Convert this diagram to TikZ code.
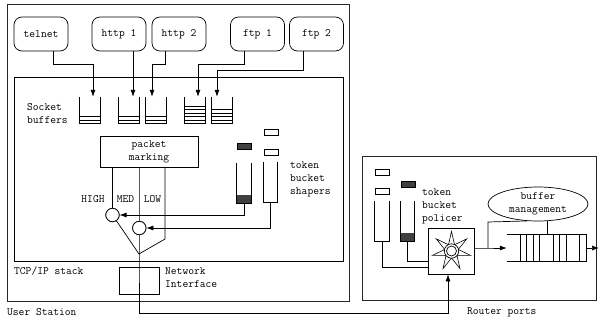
\documentclass[tikz,border=0pt]{standalone}
\usepackage{fontspec}
\usetikzlibrary{arrows.meta,calc,shapes.geometric}
\definecolor{tokdark}{HTML}{404040}
\newcommand\mkbuf[3]{%
  \node[bufbox] (#1) at (#2,110) {};
  \draw[ln] (#1.north west) -- (#1.south west) -- (#1.south east) -- (#1.north east);
  \foreach \k in {1,...,#3} {\draw[thinln] ($(#1.south west)+(0,-\k*3.4)$) -- ($(#1.south east)+(0,-\k*3.4)$);}
}
\newcommand\mktube[4]{%
  \node[tubebox] (#1) at (#2,#3) {};
  \ifx#4d\fill[tokdark] (#1.south west) rectangle ($(#1.south east)+(0,-8)$);\fi
  \draw[ln] (#1.north west) -- (#1.south west) -- (#1.south east) -- (#1.north east);
}
\begin{document}
\begin{tikzpicture}[x=1pt,y=-1pt,
  every node/.style={font=\ttfamily\fontsize{11.2}{13}\selectfont},
  ln/.style={line width=0.7pt},
  thinln/.style={line width=0.6pt},
  frame/.style={line width=0.9pt,draw=black!85},
  arr/.style={ln,-{Latex[length=7pt,width=5pt]}},
  app/.style={draw,ln,rounded corners=8pt,minimum width=54pt,minimum height=34pt,inner sep=0pt},
  lbl/.style={inner sep=0pt,anchor=west,align=left},
  bufbox/.style={minimum width=20pt,minimum height=26pt,inner sep=0pt},
  tubebox/.style={minimum width=14pt,minimum height=40pt,inner sep=0pt},
  tok/.style={draw,ln,minimum width=14pt,minimum height=6pt,inner sep=0pt},
  dtok/.style={tok,fill=tokdark},
  mux/.style={draw,ln,circle,fill=white,minimum size=13.4pt,inner sep=0pt},
  box/.style={draw,ln,inner sep=0pt,align=center}
]
\useasboundingbox (0,0) rectangle (599,322);

% frames
\draw[frame] (7,4) rectangle (349,301);
\draw[ln] (14,77) rectangle (343,261);
\draw[frame] (362,156) rectangle (596,300);

% applications
\node[app] (telnet) at (41,34) {telnet};
\node[app] (http1) at (119,34) {http 1};
\node[app] (http2) at (179,34) {http 2};
\node[app] (ftp1) at (257.5,34) {ftp 1};
\node[app] (ftp2) at (316.5,34) {ftp 2};

% socket buffers
\mkbuf{btel}{90}{2}
\mkbuf{bh1}{129}{2}
\mkbuf{bh2}{156}{2}
\mkbuf{bf1}{195}{5}
\mkbuf{bf2}{222}{4}
\node[lbl] (sockl) at (27,113.5) {Socket\\buffers};

% app -> buffer arrows
\coordinate (h64) at (0,64);
\coordinate (h70) at (0,70);
\coordinate (a1) at ($(telnet.south)+(12,0)$);
\coordinate (a2) at ($(http1.south)+(14,0)$);
\coordinate (a3) at ($(http2.south)+(-14,0)$);
\coordinate (a4) at ($(ftp1.south)+(-13.5,0)$);
\coordinate (a5) at ($(ftp2.south)+(-13.5,0)$);
\draw[arr] (a1) -- (a1 |- h64) -| ([xshift=3pt]btel.north);
\draw[arr] (a2) -- ([xshift=4pt]bh1.north);
\draw[arr] (a3) -- (a3 |- h64) -| ([xshift=-4pt]bh2.north);
\draw[arr] (a4) -- (a4 |- h64) -| ([xshift=3pt]bf1.north);
\draw[arr] (a5) -- (a5 |- h70) -| ([xshift=-5pt]bf2.north);

% packet marking
\node[box,minimum width=98pt,minimum height=31pt] (pm) at (149,151.5) {packet\\marking};
\coordinate (j) at (139,254);
\coordinate (lowx) at (165,239);
\coordinate (bot) at (139,313);
\node[mux] (c1) at (112.5,215) {};
\node[mux] (c2) at (139.3,228) {};

% network interface
\node[box,minimum width=40pt,minimum height=27pt] (ni) at (139,280.5) {};

% lines from marking
\draw[ln] (pm.south -| c1) -- (c1);
\draw[ln] (c1) -- (j);
\draw[ln] (pm.south -| lowx) -- (lowx) -- (j);
\draw[ln] (pm.south -| j) -- (j) -- (bot);
\node[mux] at (c2) {};
\node[mux] at (c1) {};

\node[inner sep=0pt] (lhigh) at (93,199) {HIGH};
\node[inner sep=0pt] (lmed) at (125.5,199) {MED};
\node[inner sep=0pt] (llow) at (152.5,199) {LOW};

% token bucket shapers
\node[dtok] (st1) at (244,146) {};
\node[tok] (st2) at (271,132.5) {};
\node[tok] (st3) at (271,152) {};
\mktube{t1}{244}{183}{d}
\mktube{t2}{270.5}{182}{w}
\draw[arr] (t1.south) |- (c1.east);
\draw[arr] (t2.south) |- (c2.east);
\node[lbl] (tbs) at (290,179) {token\\bucket\\shapers};

\node[lbl] (tcpl) at (14,271) {TCP/IP stack};
\node[lbl] (nil) at (165,278) {Network\\Interface};
\node[lbl] (usl) at (7,312) {User Station};

% router
\node[tok] (rk1) at (382.5,172) {};
\node[tok] (rk2) at (382.5,191.5) {};
\node[dtok] (rk3) at (408,184.5) {};
\mktube{rt1}{382}{221}{w}
\mktube{rt2}{407.5}{221}{d}
\node[lbl] (tbp) at (422,206) {token\\bucket\\policer};
\node[box,minimum size=46pt] (sb) at (451,251) {};
\coordinate (sc) at (451.5,251);
\draw[line width=0.6pt,line join=miter] ($(sc)+(-90:19.5)$)
  \foreach \i in {1,...,6} { -- ($(sc)+({-90+\i*1080/7}:19.5)$) } -- cycle;
\draw[ln,fill=white] (sc) circle (7.2pt);
\draw[ln] (sc) circle (5pt);
\draw[ln] (rt1.south) |- ($(sb.west)+(0,16)$);
\draw[ln] (rt2.south) |- ($(sb.west)+(0,10)$);

% connection station -> router
\draw[arr] (bot) -| ([xshift=-3pt]sb.south);

% buffer management and queue
\node[draw,ln,ellipse,minimum width=100pt,minimum height=34pt,inner sep=0pt,align=center] (bm) at (538,204) {buffer\\management};
\node[minimum width=79pt,minimum height=27pt,inner sep=0pt] (q) at (546.5,248) {};
\draw[ln] (q.north west) -- (q.north east) -- (q.south east) -- (q.south west);
\foreach \xx in {520,526,533,539,553,559,566,579} {\draw[ln] (\xx,234.5) -- (\xx,261.5);}
\coordinate (sp) at (488,248);
\coordinate (sk) at (488,222);
\coordinate (qx) at (547,0);
\draw[arr] (sp -| sb.east) -- (sp) -- (q.west);
\draw[ln] (sp) -- (sk) -- (bm.237);
\draw[ln] (bm.south -| qx) -- (q.north -| qx);
\draw[arr] (q.east) -- (599,248);
\node[lbl] (rpl) at (467,312) {Router ports};
\end{tikzpicture}
\end{document}
